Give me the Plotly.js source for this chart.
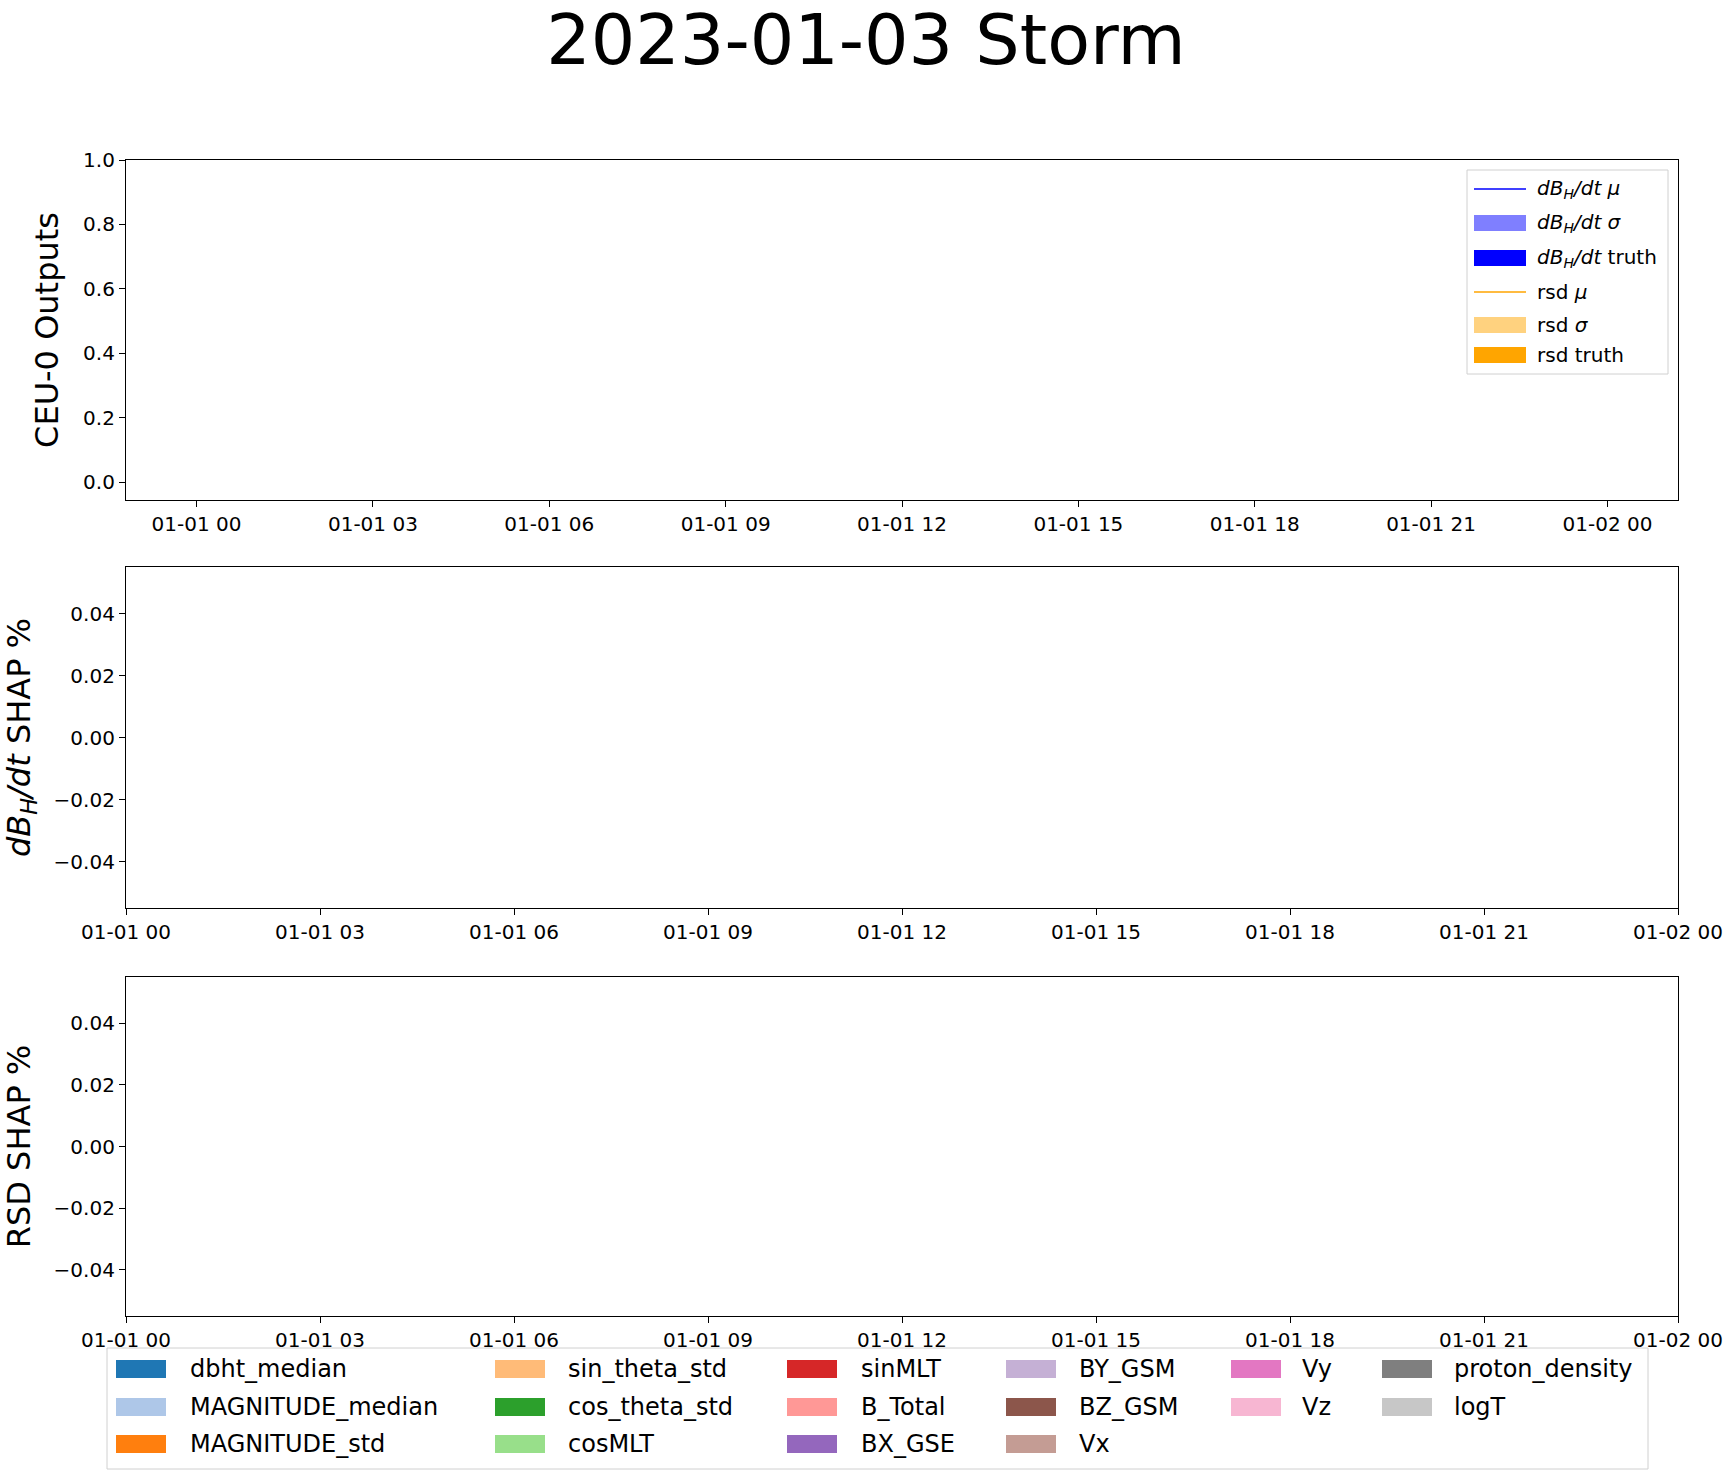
<!DOCTYPE html>
<html><head><meta charset="utf-8">
<script src="https://cdn.plot.ly/plotly-3.0.1.min.js"></script>
<style>body{margin:0}</style></head>
<body><div id="chart" style="width:1732px;height:1477px"></div>
<script>
const W = 1732, H = 1477;
const dayStart = '2023-01-01 00:00', dayEnd = '2023-01-02 00:00';
const outLabels = ['<i>dB</i><sub><i>H</i></sub><i>/dt μ</i>', '<i>dB</i><sub><i>H</i></sub><i>/dt σ</i>',
  '<i>dB</i><sub><i>H</i></sub><i>/dt</i> truth', 'rsd <i>μ</i>', 'rsd <i>σ</i>', 'rsd truth'];
const outKinds = ['line', 'patch', 'patch', 'line', 'patch', 'patch'];
const outColors = ['#0000ff', 'rgba(0,0,255,0.5)', '#0000ff', '#ffa500', 'rgba(255,165,0,0.5)', '#ffa500'];
const features = ['dbht_median','MAGNITUDE_median','MAGNITUDE_std','sin_theta_std','cos_theta_std','cosMLT',
  'sinMLT','B_Total','BX_GSE','BY_GSM','BZ_GSM','Vx','Vy','Vz','proton_density','logT'];
const featColors = ['#1f77b4','#aec7e8','#ff7f0e','#ffbb78','#2ca02c','#98df8a','#d62728','#ff9896',
  '#9467bd','#c5b0d5','#8c564b','#c49c94','#e377c2','#f7b6d2','#7f7f7f','#c7c7c7'];
const featColumns = [3, 3, 3, 3, 2, 2]; // items per legend column

const px = x => x / W, py = y => 1 - y / H;
const font = {family: 'DejaVu Sans', color: '#000'};
const axBase = {showline: true, linecolor: '#000', linewidth: 1.2, mirror: true, ticks: 'outside',
  ticklen: 6, tickcolor: '#000', showgrid: false, zeroline: false, tickfont: {size: 20}};
const hr = 3600000;
const xBase = Object.assign({}, axBase, {type: 'date', tickformat: '%m-%d %H', dtick: 3 * hr,
  tick0: dayStart});

const t0 = new Date('2023-01-01T00:00:00Z').getTime();
const iso = ms => new Date(ms).toISOString().replace('T', ' ').slice(0, 19);

const layout = {
  width: W, height: H, margin: {l: 0, r: 0, t: 0, b: 0}, showlegend: false,
  paper_bgcolor: '#fff', plot_bgcolor: '#fff', font: font,
  title: {text: '2023-01-03 Storm', font: {size: 70}, x: 0.5, xanchor: 'center', y: py(39), yanchor: 'middle'},
  xaxis: Object.assign({}, xBase, {domain: [px(126), px(1678)], anchor: 'y',
    range: [iso(t0 - 1.2 * hr), iso(t0 + 25.2 * hr)]}),
  yaxis: Object.assign({}, axBase, {domain: [py(500), py(160)], anchor: 'x', range: [-0.055, 1.0], dtick: 0.2,
    tickformat: '.1f', title: {text: 'CEU-0 Outputs', font: {size: 32}, standoff: 14}}),
  xaxis2: Object.assign({}, xBase, {domain: [px(126), px(1678)], anchor: 'y2', range: [dayStart, dayEnd]}),
  yaxis2: Object.assign({}, axBase, {domain: [py(908), py(567)], anchor: 'x2', range: [-0.055, 0.055], dtick: 0.02,
    tickformat: '.2f', title: {text: '<i>dB</i><sub><i>H</i></sub><i>/dt</i> SHAP %', font: {size: 32}, standoff: 14}}),
  xaxis3: Object.assign({}, xBase, {domain: [px(126), px(1678)], anchor: 'y3', range: [dayStart, dayEnd]}),
  yaxis3: Object.assign({}, axBase, {domain: [py(1316), py(977)], anchor: 'x3', range: [-0.055, 0.055], dtick: 0.02,
    tickformat: '.2f', title: {text: 'RSD SHAP %', font: {size: 32}, standoff: 14}}),
  shapes: [], annotations: []
};

// top legend
const S = layout.shapes, A = layout.annotations;
S.push({type: 'rect', xref: 'paper', yref: 'paper', x0: px(1467), x1: px(1668), y0: py(374), y1: py(170),
  line: {color: '#d0d0d0', width: 1}, fillcolor: 'rgba(255,255,255,0.8)'});
const rowsTop = [189, 223, 258, 292, 325, 355];
outLabels.forEach((lab, i) => {
  const y = rowsTop[i];
  if (outKinds[i] === 'line') {
    S.push({type: 'line', xref: 'paper', yref: 'paper', x0: px(1474), x1: px(1526), y0: py(y), y1: py(y),
      line: {color: outColors[i], width: 1.5}});
  } else {
    S.push({type: 'rect', xref: 'paper', yref: 'paper', x0: px(1474), x1: px(1526), y0: py(y + 8), y1: py(y - 8),
      line: {width: 0}, fillcolor: outColors[i]});
  }
  A.push({xref: 'paper', yref: 'paper', x: px(1535), y: py(y), xanchor: 'left', yanchor: 'middle',
    text: lab, showarrow: false, font: {size: 20}});
});

// bottom legend
S.push({type: 'rect', xref: 'paper', yref: 'paper', x0: px(107), x1: px(1648), y0: py(1469), y1: py(1348),
  line: {color: '#d0d0d0', width: 1}, fillcolor: '#fff'});
const colPatch = [116, 495, 787, 1006, 1231, 1382], colText = [188, 566, 859, 1077, 1300, 1452];
const rowsBot = [1369, 1407, 1444];
let k = 0;
featColumns.forEach((n, c) => {
  for (let r = 0; r < n; r++, k++) {
    const y = rowsBot[r];
    S.push({type: 'rect', xref: 'paper', yref: 'paper', x0: px(colPatch[c]), x1: px(colPatch[c] + 50),
      y0: py(y + 9), y1: py(y - 9), line: {width: 0}, fillcolor: featColors[k]});
    A.push({xref: 'paper', yref: 'paper', x: px(colText[c]), y: py(y), xanchor: 'left', yanchor: 'middle',
      text: features[k], showarrow: false, font: {size: 24}});
  }
});

// empty traces so each axis pair is drawn
const data = ['', '2', '3'].map(s => ({x: [], y: [], type: 'scatter', mode: 'lines', xaxis: 'x' + s, yaxis: 'y' + s}));
Plotly.newPlot('chart', data, layout, {displayModeBar: false});
</script></body></html>
